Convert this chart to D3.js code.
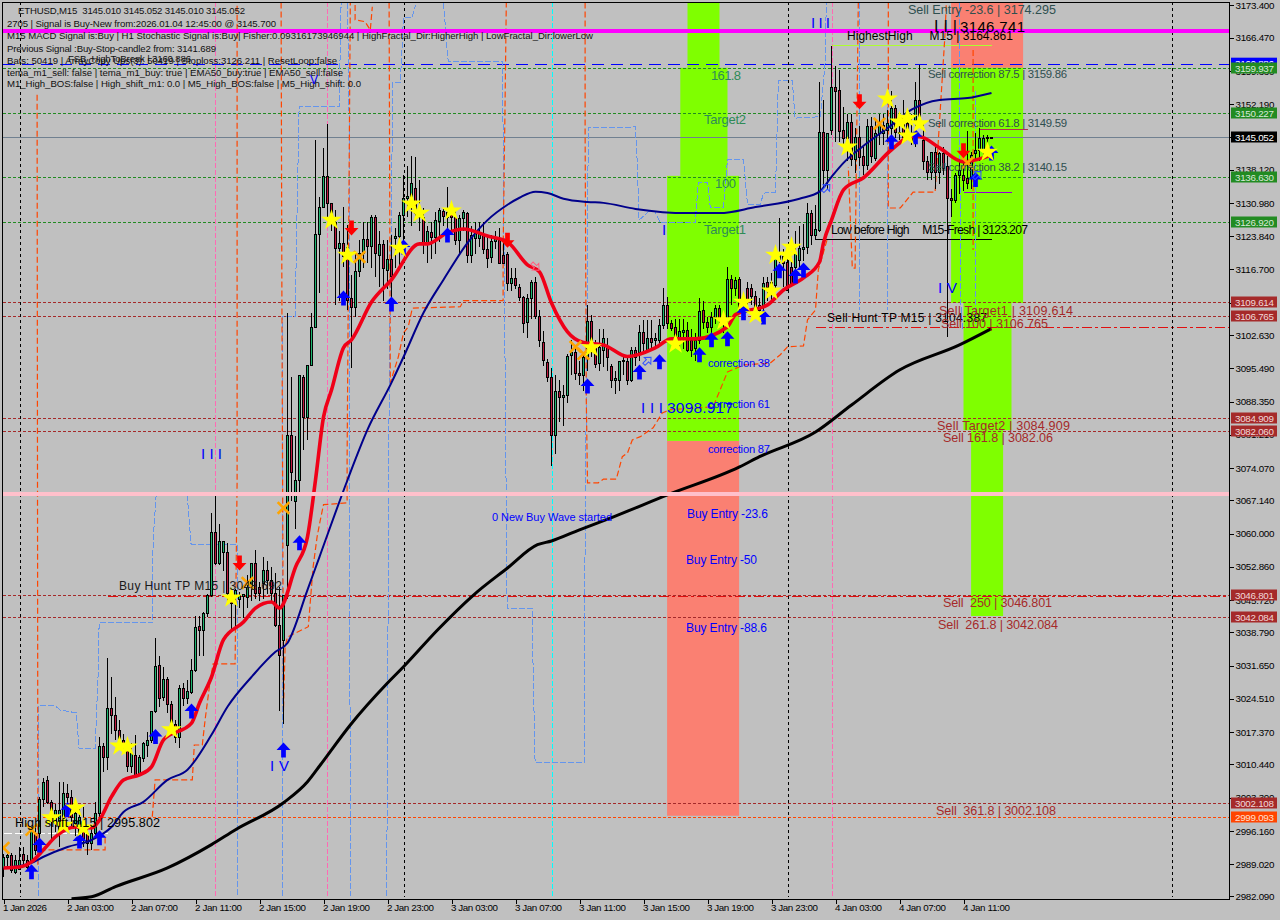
<!DOCTYPE html>
<html><head><meta charset="utf-8">
<style>
html,body{margin:0;padding:0;background:#C0C0C0;overflow:hidden}
svg{display:block}
text{font-family:"Liberation Sans",Arial,sans-serif;white-space:pre}
</style>
<script src="https://cdn.jsdelivr.net/npm/d3@7/dist/d3.min.js"></script>
</head><body>
<script>
// one row per 15-minute bar: open, high, low, close
const bars = [
[2988.1,2991.3,2986.3,2990.6],[2990.6,2991.3,2988.5,2990.9],[2990.9,2991.5,2987.2,2987.8],[2987.4,2990.9,2987,2989.9],
[2988,2992.8,2987.7,2990],[2991.3,2992.8,2988.5,2989.9],[2989.9,2991,2988,2988.5],[2989.9,2997,2989,2996.4],
[2995.7,2997,2991,2992],[2995.7,3003.5,2991.3,3003.1],[3003.1,3007.5,3001.3,3006.7],[3007.1,3008,3002,3002.4],
[3002.4,3002.8,2994.2,2999.2],[2997.8,3002,2996,3000.6],[2995.7,3006.7,2992.8,3000.6],[2998.5,3006.7,2996,3004.2],
[3004.2,3006.3,3000,3003.5],[3003.5,3005,2997,2999.2],[2997.8,3001,2995,3000],[2995.7,3001,2994,2999.2],
[2997.8,3001.3,2992.8,2994.5],[2995.7,2997.5,2991,2993.5],[2993.5,2996.5,2992,2995.7],[2995.7,3002.4,2995,3000],
[3000,3016.4,2999.2,3014.3],[3014.3,3015,3008.8,3012.1],[3012.1,3033.2,3009.2,3022.5],[3022.5,3029.3,3017,3021],
[3021,3025,3015.6,3017.8],[3017.8,3020,3014.2,3015.6],[3015.6,3017,3013,3013.5],[3013.5,3015.6,3008.8,3010],
[3010,3015,3008.5,3012.8],[3012.4,3016.8,3008.2,3008.2],[3008.2,3012.5,3008,3012.1],[3011.7,3015.3,3011,3015],
[3014.6,3017.4,3012,3015.7],[3015.7,3022,3015,3022],[3021.8,3037.5,3021.4,3031.6],[3031.7,3033.6,3022.8,3024.6],
[3025,3031.4,3024,3028.7],[3028.8,3029.3,3021.4,3023.5],[3023.5,3024,3017,3019.2],[3019.2,3020,3015,3016.4],
[3016.4,3027.5,3013.9,3026.8],[3026.8,3028,3023,3024.6],[3024.6,3028.5,3023.5,3026.1],[3026,3033,3025.5,3030.7],
[3030.7,3042.2,3030.3,3040],[3040.1,3042.2,3033.6,3039.3],[3039.3,3043.2,3033.6,3042.9],[3042.9,3047,3042,3046.8],
[3046.8,3064.4,3046.4,3060.4],[3060.4,3068,3053.2,3053.6],[3053.6,3062,3053.2,3058.3],[3056.1,3058.3,3052,3058.3],
[3056.1,3058,3045,3047.2],[3047.2,3047.5,3039.3,3045],[3046.8,3048,3040,3047.9],[3046,3047.5,3044,3046.8],
[3046.5,3047,3041.8,3047],[3046.4,3051,3044,3048.6],[3048.6,3053.6,3045.5,3053.6],[3053.6,3056.5,3046,3047.2],
[3048.6,3049.5,3045.5,3047.2],[3049.3,3055,3046,3052.2],[3052.2,3054,3047,3050],[3050,3052.9,3045,3047.2],
[3047.2,3051.5,3040,3040.4],[3040.4,3048.6,3022,3033.9],[3037.1,3040,3019.2,3046.8],[3057.6,3107.3,3046,3081.2],
[3081.2,3093.7,3067,3073.3],[3067,3081,3061,3071.5],[3071.5,3094,3068,3094],[3093.7,3094,3078,3085.1],
[3085.1,3096.2,3080,3096.2],[3096.2,3107.3,3096,3104.4],[3104.4,3144.6,3104.2,3124.3],[3124.3,3132.3,3111.6,3130.2],
[3130.2,3142.7,3130,3136.8],[3136.8,3148,3128,3130.9],[3130.9,3131,3125,3127],[3127,3129.5,3109,3121.3],
[3121.3,3125,3110,3122.3],[3122.3,3130.2,3117.3,3119.5],[3121.6,3126.2,3108,3110.2],[3110.5,3115.5,3095.5,3108.7],
[3108.7,3120,3106.5,3116.4],[3116.4,3123,3115,3120.2],[3120.2,3127,3117,3123.2],[3123.2,3127,3118,3121.8],
[3121.8,3128.5,3117,3127.9],[3127.9,3128.5,3115,3120.2],[3119.8,3125,3113,3122.2],[3122.2,3123,3110,3117],
[3116.6,3123,3112.6,3118.9],[3118.9,3124,3110,3115.2],[3123.4,3125.5,3117,3123.9],[3123.8,3129,3117,3128.5],
[3128.4,3137,3122,3132],[3132,3139,3128,3132.5],[3130.2,3141,3126,3135.2],[3134.1,3140.8,3128,3128.8],
[3129.5,3136,3125,3128],[3128,3130,3120,3122.3],[3122.3,3126,3118,3125],[3124.8,3127,3119,3123.6],
[3123.6,3129,3120,3127.3],[3127.2,3130,3122.5,3129.5],[3129.3,3130,3126,3128.2],[3128,3134.5,3125,3129],
[3129,3131,3125,3128],[3128,3130,3122,3123],[3123,3128.5,3120,3127.7],[3127.7,3129.5,3125,3129],
[3128.8,3129,3118,3119.8],[3119.8,3126,3118,3124.1],[3123.4,3127,3120,3125],[3123.4,3127,3121.5,3124.8],
[3124.3,3127,3120,3121],[3121,3124,3117,3119.1],[3119.3,3124,3118,3122.9],[3122.9,3125,3121,3123.4],
[3123,3125.5,3118,3118],[3119.8,3123,3118,3118],[3120,3120.5,3112,3113.9],[3113.9,3117,3112,3114.8],
[3114.8,3117,3112.5,3113.4],[3113,3113.5,3110,3110.7],[3110.7,3111,3103,3105.3],[3105.5,3111.5,3102,3110.5],
[3110.5,3114.5,3106,3114.1],[3114.1,3115,3106,3106.7],[3106.7,3108,3100,3101.6],[3101.2,3103.5,3096,3097.3],
[3096.9,3097.5,3092.5,3093.7],[3093.7,3095.5,3074.5,3081.2],[3081.2,3094,3077,3090.5],[3090.5,3093,3084,3089.4],
[3089.3,3092,3083,3089.8],[3089.8,3098.5,3088,3098.1],[3098.3,3101.5,3094,3099],[3099,3100.5,3093,3094.4],
[3094.4,3097,3092,3094],[3094,3099,3090.5,3098],[3098,3109,3095,3105.7],[3105.7,3107,3098,3100.5],
[3100.9,3101.5,3095.5,3096.3],[3096.6,3104,3095,3100],[3099.4,3104,3095.8,3101.9],[3100,3102,3095,3098],
[3095.9,3096.5,3091.3,3093],[3093,3095,3090,3093.3],[3093,3097,3090.5,3097],[3097,3098.5,3094,3097.3],
[3097,3098,3092,3093],[3093,3100,3092.5,3099.4],[3099.4,3100,3096,3098],[3099,3104.8,3097,3103.2],
[3103.2,3105.8,3099,3100.9],[3099.4,3105.8,3099,3101.9],[3101.9,3105.8,3099.5,3101.2],[3101.5,3103,3100,3102],
[3101.6,3106,3100,3104.7],[3104.7,3112.7,3104,3109.1],[3109,3110.8,3104,3105.2],[3105.2,3105.8,3103.5,3104.1],
[3104.3,3106,3100,3102.3],[3101.6,3106,3099.5,3103.4],[3103.2,3106,3099.7,3103.7],[3103.7,3105.5,3099,3099.4],
[3101.6,3104,3098,3099.4],[3099.8,3103,3097,3101.6],[3101.6,3110.5,3100.8,3107.8],[3108,3110,3104,3105.5],
[3105.5,3106.5,3103,3104.4],[3104.4,3107.5,3102.8,3106.6],[3106.5,3109,3105,3108.4],[3108.4,3109,3104.5,3106.2],
[3106.2,3107.5,3103,3105.9],[3105.9,3117.3,3105.5,3114.6],[3114.6,3115.5,3109,3112.7],[3112.7,3115,3111,3114.4],
[3114.6,3115,3108,3108.7],[3108.7,3110,3106,3107.7],[3112.7,3114,3108,3110.2],[3112.7,3113.5,3109,3110.9],
[3110.9,3112,3106.5,3108.7],[3108,3110.5,3106,3109.1],[3108.7,3115,3107,3113.7],[3114,3115,3110,3113],
[3114,3116,3110,3112.3],[3113.4,3121,3112,3119.1],[3119,3127.7,3118,3120],[3119.5,3121,3113,3118],
[3118.4,3122,3112,3112.3],[3117.3,3119,3113,3113.7],[3117.3,3125,3116,3120.2],[3118.8,3126,3117,3121.3],
[3121,3126.5,3118.5,3121.6],[3121.6,3131,3120,3128.8],[3128.8,3129.5,3122,3124.1],[3124.1,3130.5,3123,3125.3],
[3125.2,3157,3124.8,3146.2],[3146.2,3153,3134,3138.1],[3138.1,3146,3134,3146.1],[3146.7,3164.7,3145.5,3155.8],
[3155.8,3160.3,3144,3155.1],[3155.3,3159.5,3144,3146.5],[3146.7,3151.6,3143,3144.9],[3144.9,3150,3140,3148.4],
[3148.4,3150,3139,3140.4],[3140.4,3147,3137.5,3145.1],[3145.1,3147.5,3139,3140.9],[3141,3143,3137,3139.1],
[3139.1,3149,3138,3147.4],[3147.4,3149.5,3139.5,3141],[3140.6,3148.5,3140,3146],[3146,3150,3143.5,3147.7],
[3146,3150,3143.5,3147.7],[3146.6,3151,3144,3148.1],[3147,3155,3142.5,3151.3],[3151.3,3152,3145,3146.3],
[3146.3,3148,3144.5,3146],[3149.5,3153,3144.5,3145.2],[3148.1,3150,3144.5,3146],[3146,3150,3143.5,3144.2],
[3148.8,3157,3143,3153.1],[3153.1,3160.6,3147,3148.1],[3144.5,3148,3138,3139.9],[3139.9,3141,3136,3137.7],
[3137.7,3142,3136,3142],[3142,3143,3134,3137.7],[3137.7,3142,3135,3141.7],[3141.7,3143,3137,3138.4],
[3139,3141,3102.3,3132],[3132,3134,3128,3131.6],[3131.6,3137.5,3131,3137],[3137,3140,3133,3138],
[3137,3140,3133.5,3136],[3136.3,3146.5,3134,3135.2],[3136.6,3142,3134,3141.3],[3141.7,3146,3140,3142.4],
[3142.4,3147,3140,3144.9],[3142.4,3145.5,3141,3145],[3145,3145.5,3143.5,3145.2],[3145.01,3145.05,3145.01,3145.05]
];

// moving averages, read at selected bars: [bar, price]
const redLine = [[0,2988.2],[4,2988.4],[7,2989.5],[10,2992.1],[13,2994.9],[18,2997],[22,2996.8],[24,2998.5],[27,3003.5],[30,3007.1],[34,3008.2],[37,3009.9],[40,3015.7],[47,3019.3],[49,3023.6],[52,3029.2],[55,3037.2],[60,3041],[63,3044],[67,3045.3],[69,3044],[73,3052.8],[76,3059.3],[78,3071.5],[80,3085],[82,3090.8],[85,3099.9],[87,3101.6],[92,3109.7],[97,3114.5],[104,3122.2],[106,3122.2],[111,3124.6],[115,3125.4],[121,3123.9],[126,3122.6],[131,3117.7],[134,3116.2],[137,3109.5],[141,3103.3],[145,3101],[150,3100.5],[156,3098],[163,3099.9],[167,3101.8],[173,3101.8],[181,3104.4],[183,3107],[191,3109.1],[195,3112.3],[200,3114.9],[204,3118.3],[205,3122.4],[207,3127.3],[210,3133.8],[215,3136.4],[222,3142.4],[227,3145.2],[229,3145.2],[234,3142.8],[240,3139.8],[245,3140.7],[247,3141.3]];
const navyLine = [[0,2988.2],[7,2989.3],[10,2990.6],[16,2992.7],[22,2994.2],[27,2997],[30,3000.2],[35,3002.4],[41,3007.1],[46,3009.3],[52,3016.8],[56,3022.8],[62,3029.2],[68,3034.6],[71,3036.5],[76,3047.9],[79,3055],[86,3071.5],[91,3082.3],[97,3092.4],[100,3097.9],[105,3107.4],[110,3114.5],[116,3122.4],[121,3127.3],[126,3130.6],[129,3132.1],[133,3133.4],[136,3133.1],[140,3131.9],[146,3131.2],[150,3131],[158,3129.7],[171,3128.8],[179,3128.8],[188,3130.1],[199,3131.9],[204,3133.4],[207,3136.6],[210,3139.6],[216,3143.9],[222,3147.7],[227,3151],[234,3153.1],[241,3153.5],[247,3154.6]];
const blackLine = [[17,2981.6],[22,2982],[28,2984.2],[41,2988.2],[52,2993.2],[58,2996.4],[70,3002.2],[76,3006.7],[79.2,3010.3],[86.7,3018.9],[96,3027.9],[100,3031.4],[108.5,3039.3],[117.5,3046.8],[126,3052.6],[133.5,3057.6],[137,3058.4],[144,3060.8],[152.5,3063.6],[166,3068.3],[184,3074.3],[189,3076.5],[203,3081.8],[212,3087.6],[224,3095.1],[239,3100.5],[247,3104]];

// stepped indicator traces: [bar, price]
const blueSteps = [
[[8.7,2982.2],[8.7,3023],[12.9,3023],[14.2,3022.1],[18.2,3021.5],[18.9,3013.8],[22.9,3013.8],[23.7,3030.7],[23.9,3040.8],[37.2,3040.8],[37.4,3058.6],[38.2,3068.7],[45.9,3068.7],[46.9,3057.6],[58.4,3057.6],[58.4,2982.2]],
[[69.7,2982.2],[69.7,3106.7],[72.9,3106.7],[73.4,3129.5],[73.9,3151.6],[83.9,3151.6],[84.4,3174]],
[[86,3174],[86.4,3149.5],[86.7,2982.2]],
[[95.8,2982.2],[96.4,3088.7],[97.2,3146.7],[97.2,3156.8],[99.2,3156.8],[100,3170.9],[102.2,3170.9],[103,3173.5]],
[[110,3174],[111,3162.8],[111.2,3161.3],[124.7,3161.3],[124.9,3146.7],[125.9,3044],[132.2,3044],[132.2,3040],[132.4,3031.4],[132.9,3010.8],[145.2,3010.8],[145.4,3060.2],[145.7,3088.7],[146.2,3147.1],[158,3147.3],[158.4,3140.2],[158.9,3127.3],[161.2,3129.1],[162.9,3129.1],[164.2,3126.7],[172.9,3126.7],[173.7,3135.3],[176,3135.3],[176.7,3130.1],[180,3130.1],[181,3140.4],[185,3140.4],[186,3130.6],[189.2,3130.6],[190,3133.1],[193,3133.3],[193.7,3157.2],[197.2,3157.2],[197.9,3149.2],[204.2,3149.5],[205.4,3161.1],[205.7,3174]],
[[214,3174],[214,3108]],
[[221,3155],[221,3108]],
[[239,3174],[239.2,3111],[239.8,3104]],
[[243,3155],[243,3105]]
];
const orangeSteps = [
[[8.4,3154.2],[8.6,2988.9]],
[[9,2992.1],[10.9,2992.1],[25.4,2992.1],[25.4,2995.3]],
[[37.2,2999.2],[37.9,3007.1],[47.2,3007.1],[47.7,3014.6],[49.7,3014.6],[50.4,3020],[51.7,3028.6],[52.4,3032],[57.9,3032],[58.4,3071],[58.4,3174]],
[[69.4,3174],[69.6,3110],[70,3022],[70.4,3035.7],[71,3037.8],[76.2,3040],[77.4,3052.8],[78.4,3059.3],[79.2,3062.9],[80,3066.2],[85.9,3066.6],[85.9,3075.8],[86.7,3174]],
[[87.9,3173.5],[87.9,3170.3],[90.4,3169.9],[91.7,3168.1],[92.2,3173.1]],
[[96.4,3174],[96.7,3092.4],[98.7,3097.9],[100,3103.1],[101.2,3104.4],[102.2,3108.4],[114.2,3108.7],[115,3110],[124.9,3110],[124.9,3120.3],[125.4,3153.1],[125.7,3174]],
[[145.4,3174],[145.4,3147.1],[145.7,3088.7],[146,3070.9],[148.7,3070.9],[150,3071.7],[153.2,3071.7],[154.7,3076.5],[156,3077.3],[157.2,3080.1],[159.2,3080.8],[162.4,3082.7],[164.7,3085.9],[166.7,3086.6],[177.4,3087.2],[181,3094.7],[185,3096.2],[191.7,3096.6],[194.2,3098.4],[196,3100.1],[200,3100.3],[201,3105.9],[203,3108],[203.7,3116.6],[205.9,3123.1]],
[[213.7,3174],[212.9,3117],[212.2,3117],[211.2,3138.7]],
[[221.2,3174],[221.2,3129.9],[224.2,3129.9],[227.4,3133.3],[232.9,3133.3],[235.4,3167.5],[235.7,3174]],
[[242.4,3163.8],[242.4,3120.9]]
];

// marks: [bar, price]
const stars = [[12,2999],[15,2997.4],[18,3001.1],[20,2996.8],[29,3014.4],[31,3014.2],[42,3017.9],[57,3046.2],[82,3127.3],[86,3119.8],[99,3121.3],[102,3130.8],[104,3128.8],[112,3129.3],[147,3099.9],[168,3100.7],[180,3105.7],[185,3109.7],[188,3107],[192,3112.1],[193,3119.8],[196,3119.8],[197,3121.5],[211,3143],[221,3153.3],[224,3148.4],[226,3149.2],[226,3145.4],[229,3148],[246,3141.9]];
const upArrows = [[7,2987.4],[9,2993.1],[16,3000.7],[19,2994],[24,2994.7],[38,3016.4],[47,3021.9],[70,3013.5],[74,3058],[85,3110.6],[97,3109.3],[100,3121.5],[111,3124.1],[146,3091.7],[159,3094.7],[164,3096.9],[174,3098.4],[177,3101.6],[181,3101.8],[185,3107.4],[190,3106.5],[194,3116.4],[198,3115.3],[200,3116.6],[222,3144.1],[228,3145.2],[243,3136],[247,3141.7]];
const downArrows = [[59,3053.7],[87,3125.6],[126,3123],[214,3152.7],[240,3142.2]];
const crosses = [[0,2992.5],[7,2996.4],[61,3049.4],[70,3065.5],[89,3119.4],[143,3100.1],[145,3098.6],[219,3148],[241,3139.6]];
const hollowBlue = [[161,3097.1],[205.7,3134.2],[243.5,3137]];
const hollowPink = [[133,3117.3]];

// zones: [first bar, last bar, top price, bottom price]
const greenZones = [[171,179,3174,3160],[169.2,181,3160,3136.8],[165.9,183.9,3136.8,3079.9],[236.9,254.9,3160,3109.5],[240,252,3109.5,3082.2],[241.9,249.9,3082.2,3042.3]];
const salmonZones = [[165.9,183.9,3079.9,2999.4],[236.9,254.9,3174,3160]];

// levels
const greenLevels = [3159.937,3150.227,3136.630,3126.920];
const brownLevels = [3109.614,3106.765,3084.909,3082.060,3046.801,3042.084,3002.108];
const orangeLevel = 2999.093;
const blueLevel = 3160.886;
const lastPrice = 3145.052;
const magentaLevel = 3168.1;
const pinkLevel = 3068.7;
const separatorBars = [4,100,196,292];
const pinkBars = [52.9,80.9,207];
const cyanBars = [137];

const priceTicks = [3173.40,3166.47,3159.33,3152.19,3145.05,3138.12,3130.98,3123.84,3116.70,3109.56,3102.63,3095.49,3088.35,3081.21,3074.07,3067.14,3060.00,3052.86,3045.72,3038.79,3031.65,3024.51,3017.37,3010.44,3003.30,2996.16,2989.02,2982.09];
const timeTickBars = [0,16,32,48,64,80,96,112,128,144,160,176,192,208,224,240];
const timeTickLabels = ["1 Jan 2026","2 Jan 03:00","2 Jan 07:00","2 Jan 11:00","2 Jan 15:00","2 Jan 19:00","2 Jan 23:00","3 Jan 03:00","3 Jan 07:00","3 Jan 11:00","3 Jan 15:00","3 Jan 19:00","3 Jan 23:00","4 Jan 03:00","4 Jan 07:00","4 Jan 11:00"];

const W=1280,H=920,L=3,R=1229,T=2,B=899;
const x=d3.scaleLinear().domain([0,306.375]).range([3.5,1229]);
const y=d3.scaleLinear().domain([3173.4,2982.09]).range([5.4,896.4]);
const svg=d3.select("body").append("svg").attr("width",W).attr("height",H).attr("viewBox",`0 0 ${W} ${H}`);
svg.append("rect").attr("width",W).attr("height",H).attr("fill","#C0C0C0");

const clipId="plot";
svg.append("clipPath").attr("id",clipId).append("rect").attr("x",L).attr("y",T).attr("width",R-L).attr("height",B-T);
const plot=svg.append("g").attr("clip-path",`url(#${clipId})`);

function zones(data,fill){
  plot.append("g").selectAll("rect").data(data).join("rect")
   .attr("x",d=>x(d[0])).attr("width",d=>x(d[1])-x(d[0]))
   .attr("y",d=>y(d[2])).attr("height",d=>y(d[3])-y(d[2])).attr("fill",fill);
}
zones(salmonZones,"#FA8072");
zones(greenZones,"#7FFF00");

const crisp=v=>Math.round(v)+0.5;
function hlines(levels,color,dash,width){
  plot.append("g").selectAll("line").data(levels).join("line")
   .attr("x1",L).attr("x2",R).attr("y1",d=>crisp(y(d))).attr("y2",d=>crisp(y(d)))
   .attr("stroke",color).attr("stroke-width",width).attr("stroke-dasharray",dash).attr("shape-rendering","crispEdges");
}
hlines(greenLevels,"#228B22","3 2",1);
hlines(brownLevels,"#A52A2A","3 2",1);
hlines([orangeLevel],"#FF4500","3 2",1);
hlines([lastPrice],"#708090",null,1);
hlines([blueLevel],"#0000FF","12 7",1.6);

function vlines(bars_,color,dash){
  plot.append("g").selectAll("line").data(bars_).join("line")
   .attr("x1",d=>crisp(x(d))).attr("x2",d=>crisp(x(d))).attr("y1",T).attr("y2",B-2)
   .attr("stroke",color).attr("stroke-dasharray",dash).attr("shape-rendering","crispEdges");
}
vlines(pinkBars,"#FF69B4","5 2");
vlines(cyanBars,"#00FFFF","5 2");

// short segments tied to levels
const segLine=d3.line().x(d=>x(d[0])).y(d=>y(d[1]));
function seg(a,b,p,color,dash,w){
  plot.append("line").attr("x1",x(a)).attr("x2",x(b)).attr("y1",crisp(y(p))).attr("y2",crisp(y(p)))
   .attr("stroke",color).attr("stroke-width",w||1).attr("stroke-dasharray",dash||null).attr("shape-rendering","crispEdges");
}
seg(203,306.4,3104.387,"#E01010","10 3 3 3");
seg(26,306.4,3046.6,"#E01010","10 3 3 3");
seg(203,247,3123.207,"#000000");
seg(207,247,3164.861,"#ADFF2F");
seg(240,252,3133.3,"#9400D3");
seg(244,256,3146.9,"#B03050");
seg(0,26,2995.802,"#FFFFFF","8 3");

// stepped traces
const sg=plot.append("g").attr("fill","none");
sg.selectAll(".b").data(blueSteps).join("path").attr("class","b").attr("d",segLine).attr("stroke","#6495ED").attr("stroke-width",1).attr("stroke-dasharray","6 2").attr("shape-rendering","crispEdges");
sg.selectAll(".o").data(orangeSteps).join("path").attr("class","o").attr("d",segLine).attr("stroke","#FF4500").attr("stroke-width",1.2).attr("stroke-dasharray","6 3");

// separators
vlines(separatorBars,"#000000","3 3");

// candles
const cg=plot.append("g");
cg.selectAll("line").data(bars).join("line")
 .attr("x1",(d,i)=>crisp(x(i)-0.5)).attr("x2",(d,i)=>crisp(x(i)-0.5))
 .attr("y1",d=>Math.round(y(d[1]))).attr("y2",d=>Math.round(y(d[2])))
 .attr("stroke","#000").attr("shape-rendering","crispEdges");
cg.selectAll("rect").data(bars).join("rect")
 .attr("x",(d,i)=>crisp(x(i)-0.5)-1)
 .attr("width",2)
 .attr("y",d=>crisp(y(Math.max(d[0],d[3]))))
 .attr("height",d=>Math.max(0,Math.round(y(Math.min(d[0],d[3])))-Math.round(y(Math.max(d[0],d[3])))))
 .attr("fill",d=>d[3]>=d[0]?"#1DB56F":"#C0183F")
 .attr("stroke","#000").attr("shape-rendering","crispEdges");

// lines
const curve=d3.line().x(d=>x(d[0])).y(d=>y(d[1])).curve(d3.curveMonotoneX);
plot.append("path").attr("d",curve(blackLine)).attr("fill","none").attr("stroke","#000").attr("stroke-width",3);
plot.append("path").attr("d",curve(navyLine)).attr("fill","none").attr("stroke","#00008B").attr("stroke-width",2);
plot.append("path").attr("d",curve(redLine)).attr("fill","none").attr("stroke","#F00018").attr("stroke-width",3.6);

// magenta and pink levels
hlines([magentaLevel],"#FF00FF",null,4);
hlines([pinkLevel],"#FFC0CB",null,4);

// markers
const arrowUp={draw(c,s){const k=Math.sqrt(s)/14;c.moveTo(0,-7*k);c.lineTo(6.5*k,0);c.lineTo(2.2*k,0);c.lineTo(2.2*k,7*k);c.lineTo(-2.2*k,7*k);c.lineTo(-2.2*k,0);c.lineTo(-6.5*k,0);c.closePath();}};
const pos=d=>`translate(${x(d[0])},${y(d[1])})`;
const mg=plot.append("g");
mg.selectAll(".x").data(crosses).join("path").attr("class","x").attr("transform",pos)
 .attr("d",d3.symbol().type(d3.symbolTimes).size(90)).attr("fill","none").attr("stroke","#FFA500").attr("stroke-width",2.6);
mg.selectAll(".u").data(upArrows).join("path").attr("class","u").attr("transform",pos)
 .attr("d",d3.symbol().type(arrowUp).size(225)).attr("fill","#0000FF");
mg.selectAll(".d").data(downArrows).join("path").attr("class","d").attr("transform",d=>pos(d)+" rotate(180)")
 .attr("d",d3.symbol().type(arrowUp).size(225)).attr("fill","#FF0000");
mg.selectAll(".h").data(hollowBlue).join("path").attr("class","h").attr("transform",d=>pos(d)+" rotate(45)")
 .attr("d",d3.symbol().type(arrowUp).size(100)).attr("fill","none").attr("stroke","#3050FF");
mg.selectAll(".p").data(hollowPink).join("path").attr("class","p").attr("transform",d=>pos(d)+" rotate(135)")
 .attr("d",d3.symbol().type(arrowUp).size(100)).attr("fill","none").attr("stroke","#FF6080");
mg.selectAll(".s").data(stars).join("path").attr("class","s").attr("transform",pos)
 .attr("d",d3.symbol().type(d3.symbolStar).size(135)).attr("fill","#FFFF00");

// texts
const tg=svg.append("g");
function note(t,px,py,size,color,w){
  const e=tg.append("text").attr("x",px).attr("y",py).attr("font-size",size).attr("fill",color).text(t);
  if(w) e.attr("textLength",w).attr("lengthAdjust","spacing");
}
const header="#101010",hs=9.6;
note("ETHUSD,M15  3145.010 3145.052 3145.010 3145.052",18,14,hs,header,227);
note("2705 | Signal is Buy-New from:2026.01.04 12:45:00 @ 3145.700",7,27,hs,header,269);
note("M15 MACD Signal is:Buy | H1 Stochastic Signal is:Buy| Fisher:0.09316173946944 | HighFractal_Dir:HigherHigh | LowFractal_Dir:lowerLow",7,39,hs,header,586);
note("Previous Signal :Buy-Stop-candle2 from: 3141.689",7,52,hs,header,209);
note("Bats: 50419 | ArrayCopy Ups(3): 50419 | Stoploss:3126.211 | ResetLoop:false",7,64,hs,header,330);
note("FSB_HighToBreak | 3160.886",68,62,hs,header,123);
note("tema_m1_sell: false | tema_m1_buy: true | EMA50_buy:true | EMA50_sell:false",7,76,hs,header,336);
note("M1_High_BOS:false | High_shift_m1: 0.0 | M5_High_BOS:false | M5_High_shift: 0.0",7,87,hs,header,354);

const slate="#2F4F4F",brown="#A52A2A",blue="#0000FF",tgt="#2E8B57";
note("Sell Entry -23.6 | 3174.295",908,14,12.6,slate,148);
note("I I |",934,32,16,"#000",23);
note("3146.741",960,32,15,"#000",65);
note("I I I",811,28,15,blue,19);
note("HighestHigh     M15 | 3164.861",847,40,12,"#000",166);
note("Sell correction 87.5 | 3159.86",928,78,11.4,slate,139);
note("Sell correction 61.8 | 3149.59",928,127,11.4,slate,139);
note("Sell correction 38.2 | 3140.15",928,171,11.4,slate,139);
note("161.8",711,80,13,tgt,30);
note("Target2",704,124,13,tgt,42);
note("100",715,188,13,tgt,21);
note("Target1",704,234,13,tgt,42);
note("I",662,235,15,blue);
note("Low before High     M15-Fresh | 3123.207",831,234,12.2,"#000",197);
note("Sell Hunt TP M15 | 3104.387",827,322,12,"#000",160);
note("Sell Target1 | 3109.614",939,315,12.6,brown,134);
note("Sell 100 | 3106.765",941,328,12.6,brown,107);
note("Sell Target2 | 3084.909",937,430,12.6,brown,133);
note("Sell 161.8 | 3082.06",943,442,12.6,brown,110);
note("Sell  250 | 3046.801",943,607,12.6,brown,109);
note("Sell  261.8 | 3042.084",938,629,12.6,brown,120);
note("Sell  361.8 | 3002.108",936,815,12.6,brown,120);
note("correction 38",708,367,11.2,blue,62);
note("correction 61",708,408,11.2,blue,62);
note("correction 87",708,453,11.2,blue,62);
note("I I I",641,413,15,blue,22);
note("3098.917",667,413,15.5,blue,66);
note("Buy Entry -23.6",687,518,12,blue,81);
note("Buy Entry -50",686,564,12,blue,71);
note("Buy Entry -88.6",686,632,12,blue,81);
note("0 New Buy Wave started",492,521,11,blue,120);
note("I I I",201,459,15,blue,21);
note("I V",270,771,15,blue,19);
note("I V",938,293,15,blue,19);
note("V",310,84,12,blue,12);
note("Buy Hunt TP M15 | 3048.692",119,590,12,"#1a1a1a",163);
note("High shift m15 | 2995.802",15,827,12.6,"#000",145);

// frame + axes
svg.append("rect").attr("x",2.5).attr("y",2.5).attr("width",R-2).attr("height",B-2.5).attr("fill","none").attr("stroke","#000").attr("shape-rendering","crispEdges");
const ay=svg.append("g").attr("transform",`translate(${R+0.5},0)`)
 .call(d3.axisRight(y).tickValues(priceTicks).tickSize(4).tickPadding(2).tickFormat(d3.format(".3f")));
ay.select(".domain").remove();
ay.selectAll("text").attr("font-size",9.8).attr("font-family","Liberation Sans").attr("fill","#000").attr("textLength",39).attr("lengthAdjust","spacing");
ay.selectAll("line").attr("stroke","#000").attr("shape-rendering","crispEdges");
const ax=svg.append("g").attr("transform",`translate(0,${B+0.5})`)
 .call(d3.axisBottom(x).tickValues(timeTickBars).tickSize(4).tickPadding(1).tickFormat((d,i)=>timeTickLabels[i]));
ax.select(".domain").remove();
ax.selectAll("text").attr("font-size",9.8).attr("font-family","Liberation Sans").attr("text-anchor","start").attr("dx",-1).attr("fill","#000").attr("textLength",(d,i)=>i===0?44:47).attr("lengthAdjust","spacing");
ax.selectAll("line").attr("stroke","#000").attr("shape-rendering","crispEdges");

// price boxes
const boxes=[...greenLevels.map(p=>({p,c:"#228B22",t:"#D8E8D8"})),...brownLevels.map(p=>({p,c:"#A52A2A",t:"#F0D8D8"})),{p:orangeLevel,c:"#FF4500",t:"#FFE0D0"},{p:lastPrice,c:"#000000",t:"#FFFFFF"}];
const bg=svg.append("g");
const blueBox=bg.append("g");
blueBox.append("rect").attr("x",1231).attr("y",y(blueLevel)-6).attr("width",46).attr("height",11).attr("fill","#0000FF");
blueBox.append("text").attr("x",1235).attr("y",y(blueLevel)+3).attr("font-size",9.8).attr("fill","#FFFFFF").attr("textLength",39).text(d3.format(".3f")(blueLevel));
const bx=bg.selectAll("g.bx").data(boxes).join("g").attr("class","bx");
bx.append("rect").attr("x",1231).attr("y",d=>Math.round(y(d.p))-5.5).attr("width",46).attr("height",11).attr("fill",d=>d.c);
bx.append("text").attr("x",1235).attr("y",d=>Math.round(y(d.p))+3.5).attr("font-size",9.8).attr("fill",d=>d.t).attr("textLength",39).attr("lengthAdjust","spacing").text(d=>d3.format(".3f")(d.p));
</script>
</body></html>
